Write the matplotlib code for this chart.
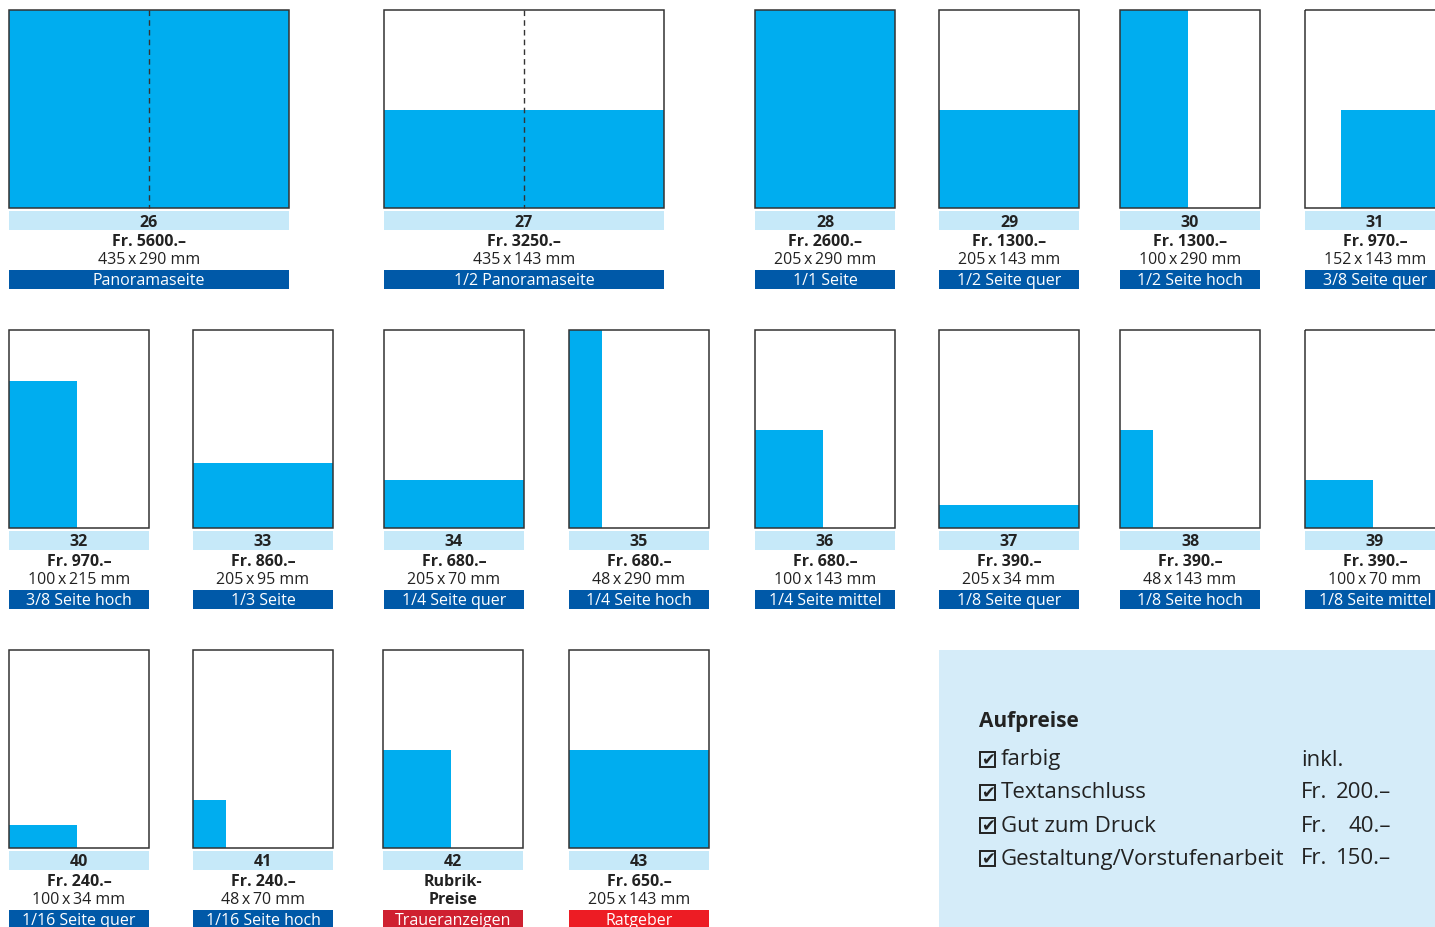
import matplotlib
matplotlib.use('Agg')
import matplotlib.pyplot as plt
from matplotlib.patches import Rectangle

plt.rcParams['font.family'] = ['Open Sans', 'DejaVu Sans']

# ad formats
numbers = ['26', '27', '28', '29', '30', '31',
           '32', '33', '34', '35', '36', '37', '38', '39',
           '40', '41', '42', '43']
prices = ['Fr. 5600.–', 'Fr. 3250.–', 'Fr. 2600.–', 'Fr. 1300.–', 'Fr. 1300.–', 'Fr. 970.–',
          'Fr. 970.–', 'Fr. 860.–', 'Fr. 680.–', 'Fr. 680.–', 'Fr. 680.–', 'Fr. 390.–', 'Fr. 390.–', 'Fr. 390.–',
          'Fr. 240.–', 'Fr. 240.–', 'Rubrik-', 'Fr. 650.–']
sizes = ['435x290 mm', '435x143 mm', '205x290 mm', '205x143 mm', '100x290 mm', '152x143 mm',
         '100x215 mm', '205x95 mm', '205x70 mm', '48x290 mm', '100x143 mm', '205x34 mm', '48x143 mm', '100x70 mm',
         '100x34 mm', '48x70 mm', 'Preise', '205x143 mm']
labels = ['Panoramaseite', '1/2 Panoramaseite', '1/1 Seite', '1/2 Seite quer', '1/2 Seite hoch', '3/8 Seite quer',
          '3/8 Seite hoch', '1/3 Seite', '1/4 Seite quer', '1/4 Seite hoch', '1/4 Seite mittel',
          '1/8 Seite quer', '1/8 Seite hoch', '1/8 Seite mittel',
          '1/16 Seite quer', '1/16 Seite hoch', 'Traueranzeigen', 'Ratgeber']
# ad size and page size in mm
ad_w = [435, 435, 205, 205, 100, 152, 100, 205, 205, 48, 100, 205, 48, 100, 100, 48, 100, 205]
ad_h = [290, 143, 290, 143, 290, 143, 215, 95, 70, 290, 143, 34, 143, 70, 34, 70, 143, 143]
page_w = [435, 435, 205, 205, 205, 205, 205, 205, 205, 205, 205, 205, 205, 205, 205, 205, 205, 205]
page_h = 290

# surcharges
extras = ['farbig', 'Textanschluss', 'Gut zum Druck', 'Gestaltung/Vorstufenarbeit']
extra_prices = ['inkl.', '200.–', '40.–', '150.–']

# layout in pixels
box_x = [9, 384, 755, 939, 1120, 1305,
         9, 193, 384, 569, 755, 939, 1120, 1305,
         9, 193, 383, 569]
row_y = [10, 330, 650]
box_row = [0] * 6 + [1] * 8 + [2] * 4
box_h = 198

CYAN = '#00adef'
LIGHT = '#c6e9f9'
DARK = '#0059a8'
TEXT = '#222222'
label_colors = [DARK] * 16 + ['#cf2030', '#ed1c24']
FS = 11.5

fig = plt.figure(figsize=(14.35, 9.27), dpi=100)
ax = fig.add_axes([0, 0, 1, 1])
ax.set_xlim(0, 1435)
ax.set_ylim(927, 0)
ax.axis('off')

for i in range(len(numbers)):
    x0 = box_x[i]
    y0 = row_y[box_row[i]]
    w = 280 if page_w[i] > 205 else 140
    fw = w * ad_w[i] / page_w[i]
    fh = box_h * ad_h[i] / page_h
    # right aligned for 3/8 quer
    fx = x0 + w - fw if numbers[i] == '31' else x0
    ax.add_patch(Rectangle((x0, y0), w, box_h, facecolor='white', edgecolor='none'))
    ax.add_patch(Rectangle((fx, y0 + box_h - fh), fw, fh, facecolor=CYAN, edgecolor='none'))
    ax.add_patch(Rectangle((x0, y0), w, box_h, facecolor='none', edgecolor='#333333', lw=1.1))
    if page_w[i] > 205:
        ax.plot([x0 + w / 2, x0 + w / 2], [y0, y0 + box_h], color='#333333', lw=1, ls=(0, (4, 3)))

    cx = x0 + w / 2
    yb = y0 + box_h
    ax.add_patch(Rectangle((x0, yb + 3), w, 19, facecolor=LIGHT, edgecolor='none'))
    ax.text(cx, yb + 14.5, numbers[i], ha='center', va='center', fontsize=FS, fontweight='bold', color=TEXT)
    ax.text(cx, yb + 33.5, prices[i], ha='center', va='center', fontsize=FS, fontweight='bold', color=TEXT)
    size_txt = sizes[i].replace('x', '\u2009x\u2009')
    ax.text(cx, yb + 52.5, size_txt, ha='center', va='center', fontsize=FS,
            fontweight='bold' if sizes[i] == 'Preise' else 'normal', color=TEXT)
    ax.add_patch(Rectangle((x0, yb + 62), w, 19, facecolor=label_colors[i], edgecolor='none'))
    ax.text(cx, yb + 73, labels[i], ha='center', va='center', fontsize=FS, color='white')

# Aufpreise box
ax.add_patch(Rectangle((939, 650), 500, 280, facecolor='#d5ecf9', edgecolor='none'))
ax.text(979, 721, 'Aufpreise', ha='left', va='center', fontsize=15, fontweight='bold', color=TEXT)
for k in range(len(extras)):
    yy = 760 + k * 33
    ax.add_patch(Rectangle((980, yy - 8), 15, 15, facecolor='none', edgecolor=TEXT, lw=1.4))
    ax.text(988, yy, '✔', ha='center', va='center', fontsize=12, color=TEXT, family='DejaVu Sans')
    ax.text(1001, yy, extras[k], ha='left', va='center', fontsize=16, color=TEXT)
    if extra_prices[k] == 'inkl.':
        ax.text(1301, yy, 'inkl.', ha='left', va='center', fontsize=16, color=TEXT)
    else:
        ax.text(1301, yy, 'Fr.', ha='left', va='center', fontsize=16, color=TEXT)
        ax.text(1391, yy, extra_prices[k], ha='right', va='center', fontsize=16, color=TEXT)

fig.savefig('out.png', dpi=100)
